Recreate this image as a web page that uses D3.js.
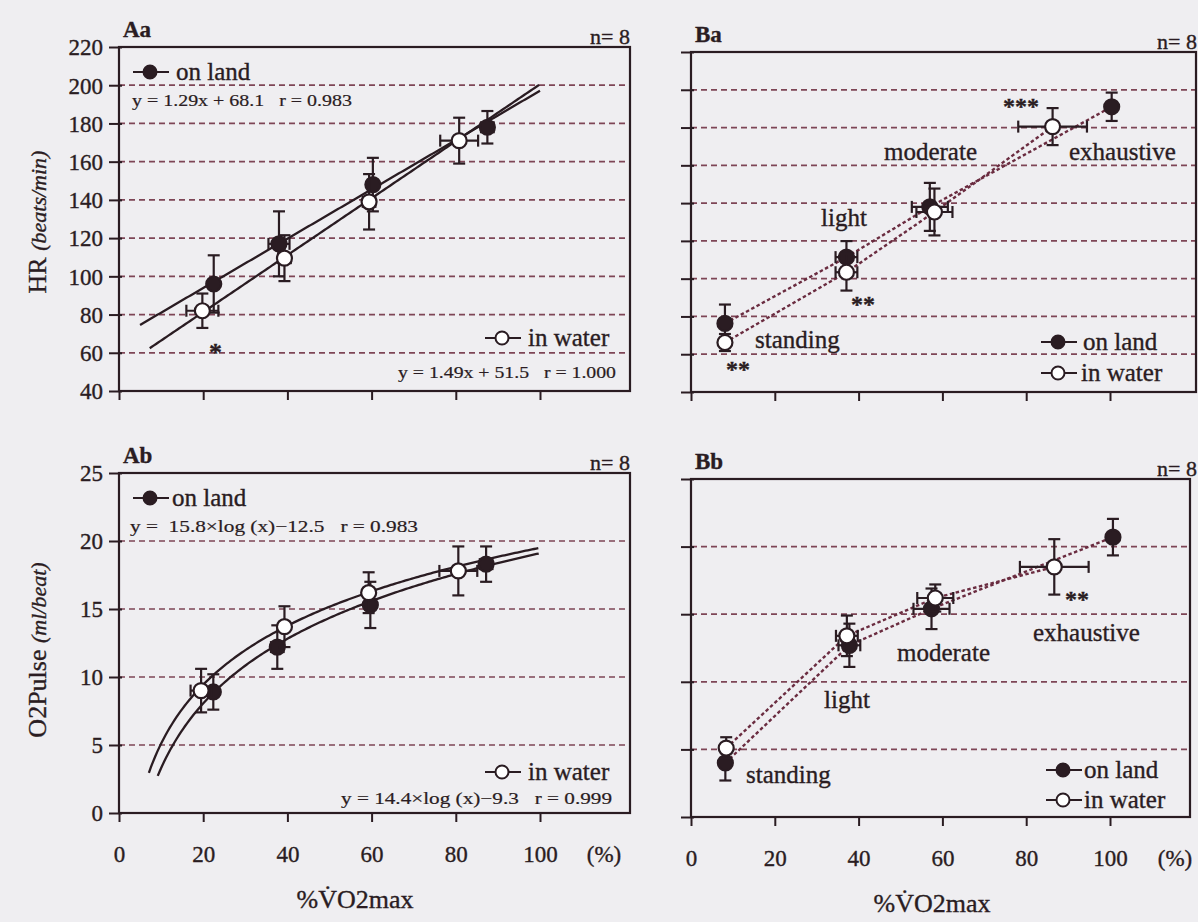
<!DOCTYPE html>
<html><head><meta charset="utf-8">
<script src="https://cdn.jsdelivr.net/npm/d3@7"></script>
<style>
body{margin:0;background:#efeef1;}
svg{display:block;}
text{font-family:"Liberation Serif","Times New Roman",serif;fill:#2a1c22;white-space:pre;stroke:#2a1c22;stroke-width:0.35px;}
</style>
</head><body>
<svg id="c" width="1198" height="922" font-family="Liberation Serif"></svg>
<script>
// ---------------- DATA ----------------
const xTicks = [0, 20, 40, 60, 80, 100];
const hrTicks = [40, 60, 80, 100, 120, 140, 160, 180, 200, 220];
const o2Ticks = [0, 5, 10, 15, 20, 25];
const stages = ["standing", "light", "moderate", "exhaustive"];

// Aa : HR vs %VO2max (regression panel)
const aaLandX = [22.5, 38.0, 60.3, 87.5];
const aaLandY = [96, 117, 148, 178];
const aaLandYErr = [15, 17, 14, 8.5];
const aaLandXErr = [1.0, 2.5, 1.0, 1.5];
const aaWaterX = [19.8, 39.3, 59.4, 80.8];
const aaWaterY = [82, 109.5, 139, 171];
const aaWaterYErr = [9, 12, 14.5, 12];
const aaWaterXErr = [3.8, 1.5, 1.5, 4.5];
const aaFitLand = [1.29, 68.1];   // y = a x + b
const aaFitWater = [1.49, 51.5];
const aaFitLandRange = [5, 100];
const aaFitWaterRange = [7.3, 100];

// Ab : O2Pulse vs %VO2max (regression panel)
const abLandX = [22.4, 37.6, 59.7, 87.2];
const abLandY = [8.9, 12.2, 15.3, 18.3];
const abLandYErr = [1.3, 1.6, 1.7, 1.3];
const abLandXErr = [1.0, 1.5, 1.0, 1.5];
const abWaterX = [19.5, 39.3, 59.3, 80.6];
const abWaterY = [9.0, 13.7, 16.2, 17.8];
const abWaterYErr = [1.6, 1.5, 1.5, 1.8];
const abWaterXErr = [2.5, 1.0, 1.0, 4.5];
const abFitLand = [15.8, -12.5];  // y = a log10(x) + b
const abFitWater = [14.4, -9.3];
const abFitLandRange = [9.2, 100];
const abFitWaterRange = [7.1, 100];

// Ba : HR by exercise stage
const baLandX = [8.1, 37.1, 57.0, 100.4];
const baLandY = [76.3, 111.4, 138.0, 191.0];
const baLandYErr = [10, 8.5, 12.7, 7.5];
const baLandXErr = [0, 2.6, 4.3, 0];
const baWaterX = [8.1, 37.1, 58.1, 86.3];
const baWaterY = [66.2, 103.4, 135.3, 180.5];
const baWaterYErr = [4.5, 9.7, 12.4, 9.8];
const baWaterXErr = [0, 2.6, 4.3, 8.2];

// Bb : O2Pulse by exercise stage
const bbLandX = [8.2, 37.8, 57.4, 100.7];
const bbLandY = [4.0, 12.7, 15.4, 20.7];
const bbLandYErr = [1.3, 1.6, 1.5, 1.35];
const bbLandXErr = [0, 2.6, 4.3, 0];
const bbWaterX = [8.4, 37.2, 58.3, 86.7];
const bbWaterY = [5.1, 13.4, 16.2, 18.5];
const bbWaterYErr = [0.8, 1.5, 1.0, 2.05];
const bbWaterXErr = [0, 2.6, 4.3, 8.2];

// ---------------- STYLE ----------------
const INK = "#2a1c22";
const GRID = "#7e4556";
const DOT = "#6a2c40";
const FONT = '"Liberation Serif", "Times New Roman", serif';

const svg = d3.select("#c");
svg.append("rect").attr("width", 1198).attr("height", 922).attr("fill", "#efeef1");

function pts(xs, ys, yerr, xerr) {
  return xs.map((x, i) => ({x, y: ys[i], ey: yerr[i], ex: xerr[i]}));
}

function drawPanel(cfg) {
  const g = svg.append("g");
  const x = d3.scaleLinear().domain([0, 100]).range([cfg.x0, cfg.x100]);
  const y = d3.scaleLinear().domain(cfg.yDomain).range([cfg.bottom, cfg.top]);
  const yTop = cfg.yDomain[1];

  // grid
  g.selectAll(".grid").data(cfg.yTicks.filter(t => t !== cfg.yDomain[0] && t !== yTop))
    .enter().append("line")
    .attr("x1", cfg.x0).attr("x2", cfg.right)
    .attr("y1", d => y(d)).attr("y2", d => y(d))
    .attr("stroke", GRID).attr("stroke-width", 1.7).attr("stroke-dasharray", "6,4");

  // frame
  g.append("rect").attr("x", cfg.x0).attr("y", cfg.top)
    .attr("width", cfg.right - cfg.x0).attr("height", cfg.bottom - cfg.top)
    .attr("fill", "none").attr("stroke", INK).attr("stroke-width", 2.2);

  // y axis ticks (with or without labels)
  const yAxis = d3.axisLeft(y).tickValues(cfg.yTicks).tickSize(10).tickPadding(6)
    .tickFormat(cfg.yLabels ? d3.format("d") : () => "");
  const ya = g.append("g").attr("transform", `translate(${cfg.x0},0)`).call(yAxis);
  ya.select(".domain").remove();
  ya.selectAll("line").attr("stroke", INK).attr("stroke-width", 2).attr("x2", -10).attr("x1", 3);
  ya.selectAll("text").attr("font-size", 23).attr("fill", INK)
    .style("font-family", FONT).attr("dy", "0.34em");

  // x axis ticks
  const xAxis = d3.axisBottom(x).tickValues(xTicks).tickSize(9).tickPadding(24)
    .tickFormat(cfg.xLabels ? d3.format("d") : () => "");
  const xa = g.append("g").attr("transform", `translate(0,${cfg.bottom})`).call(xAxis);
  xa.select(".domain").remove();
  xa.selectAll("line").attr("stroke", INK).attr("stroke-width", 2);
  xa.selectAll("text").attr("font-size", 23).attr("fill", INK).style("font-family", FONT);
  if (cfg.xLabels) {
    g.append("text").attr("x", cfg.pctX).attr("y", cfg.bottom + 49)
      .attr("text-anchor", "middle").attr("font-size", 23).text("(%)");
    g.append("text").attr("x", cfg.titleX).attr("y", cfg.bottom + 95)
      .attr("text-anchor", "middle").attr("font-size", 26).text("%V\u0307O2max");
  }

  // panel letter & n
  g.append("text").attr("x", cfg.x0 + 4).attr("y", cfg.top - 10)
    .attr("font-size", 23).attr("font-weight", "bold").text(cfg.id);
  g.append("text").attr("x", cfg.nX).attr("y", cfg.top - 3)
    .attr("text-anchor", "end").attr("font-size", 22).text("n= 8");

  const land = pts(cfg.landX, cfg.landY, cfg.landYErr, cfg.landXErr);
  const water = pts(cfg.waterX, cfg.waterY, cfg.waterYErr, cfg.waterXErr);

  // fitted curves (drawn from the printed regression equations)
  if (cfg.fits) {
    cfg.fits.forEach(f => {
      const xs = d3.range(f.range[0], f.range[1] + 0.01, 0.5);
      const fn = f.type === "lin" ? (v => f.coef[0] * v + f.coef[1])
                                  : (v => f.coef[0] * Math.log10(v) + f.coef[1]);
      g.append("path").datum(xs)
        .attr("d", d3.line().x(v => x(v)).y(v => y(fn(v))))
        .attr("fill", "none").attr("stroke", INK).attr("stroke-width", 2.3);
    });
  }
  // connecting dotted lines
  if (cfg.connect) {
    [land, water].forEach(s => {
      g.append("path").datum(s)
        .attr("d", d3.line().x(d => x(d.x)).y(d => y(d.y)))
        .attr("fill", "none").attr("stroke", DOT).attr("stroke-width", 2.4)
        .attr("stroke-dasharray", "3.5,2.5");
    });
  }

  // error bars + markers
  function series(data, filled) {
    const eg = g.append("g").attr("stroke", INK).attr("stroke-width", 2.2);
    data.forEach(d => {
      const cx = x(d.x), cy = y(d.y);
      const y1 = y(d.y + d.ey), y2 = y(d.y - d.ey);
      eg.append("line").attr("x1", cx).attr("x2", cx).attr("y1", y1).attr("y2", y2);
      eg.append("line").attr("x1", cx - 6).attr("x2", cx + 6).attr("y1", y1).attr("y2", y1);
      eg.append("line").attr("x1", cx - 6).attr("x2", cx + 6).attr("y1", y2).attr("y2", y2);
      if (d.ex > 0) {
        const xa1 = x(d.x - d.ex), xa2 = x(d.x + d.ex);
        eg.append("line").attr("x1", xa1).attr("x2", xa2).attr("y1", cy).attr("y2", cy);
        eg.append("line").attr("x1", xa1).attr("x2", xa1).attr("y1", cy - 6).attr("y2", cy + 6);
        eg.append("line").attr("x1", xa2).attr("x2", xa2).attr("y1", cy - 6).attr("y2", cy + 6);
      }
    });
    g.selectAll(null).data(data).enter().append("circle")
      .attr("cx", d => x(d.x)).attr("cy", d => y(d.y)).attr("r", 7.5)
      .attr("fill", filled ? INK : "#ffffff").attr("stroke", INK).attr("stroke-width", 2.2);
  }
  series(land, true);
  series(water, false);

  // legends
  cfg.legends.forEach(L => {
    g.append("line").attr("x1", L.cx - 17).attr("x2", L.cx + 19)
      .attr("y1", L.cy).attr("y2", L.cy).attr("stroke", INK).attr("stroke-width", 2.2);
    g.append("circle").attr("cx", L.cx).attr("cy", L.cy).attr("r", 6.5)
      .attr("fill", L.filled ? INK : "#ffffff").attr("stroke", INK).attr("stroke-width", 2);
    g.append("text").attr("x", L.tx).attr("y", L.cy + 8).attr("font-size", 25).text(L.label);
  });
  // equations
  (cfg.eqs || []).forEach(E => {
    g.append("text").attr("x", E.x).attr("y", E.y).attr("font-size", 17)
      .attr("textLength", E.w).attr("lengthAdjust", "spacingAndGlyphs")
      .style("stroke-width", "0.2px").text(E.text);
  });
  // annotations
  (cfg.notes || []).forEach(N => {
    g.append("text").attr("x", N.x).attr("y", N.y).attr("font-size", N.size || 25)
      .attr("font-weight", N.bold ? "bold" : "normal").text(N.text);
  });
}

drawPanel({
  id: "Aa", x0: 119, x100: 540, right: 630, top: 47, bottom: 391,
  yDomain: [40, 220], yTicks: hrTicks, yLabels: true, xLabels: false, nX: 630,
  landX: aaLandX, landY: aaLandY, landYErr: aaLandYErr, landXErr: aaLandXErr,
  waterX: aaWaterX, waterY: aaWaterY, waterYErr: aaWaterYErr, waterXErr: aaWaterXErr,
  fits: [{type: "lin", coef: aaFitLand, range: aaFitLandRange},
         {type: "lin", coef: aaFitWater, range: aaFitWaterRange}],
  legends: [{cx: 150, cy: 72, tx: 176, label: "on land", filled: true},
            {cx: 502, cy: 338, tx: 528, label: "in water", filled: false}],
  eqs: [{x: 132, y: 106, w: 220, text: "y = 1.29x + 68.1   r = 0.983"},
        {x: 398, y: 378, w: 218, text: "y = 1.49x + 51.5   r = 1.000"}],
  notes: [{x: 209, y: 361, text: "*", size: 26, bold: true}]
});

drawPanel({
  id: "Ab", x0: 119, x100: 540, right: 630, top: 473, bottom: 813,
  yDomain: [0, 25], yTicks: o2Ticks, yLabels: true, xLabels: true, nX: 630,
  pctX: 604, titleX: 355,
  landX: abLandX, landY: abLandY, landYErr: abLandYErr, landXErr: abLandXErr,
  waterX: abWaterX, waterY: abWaterY, waterYErr: abWaterYErr, waterXErr: abWaterXErr,
  fits: [{type: "log", coef: abFitLand, range: abFitLandRange},
         {type: "log", coef: abFitWater, range: abFitWaterRange}],
  legends: [{cx: 150, cy: 498, tx: 172, label: "on land", filled: true},
            {cx: 502, cy: 772, tx: 528, label: "in water", filled: false}],
  eqs: [{x: 130, y: 532, w: 288, text: "y =  15.8\u00d7log (x)\u221212.5   r = 0.983"},
        {x: 341, y: 804, w: 271, text: "y = 14.4\u00d7log (x)\u22129.3   r = 0.999"}]
});

drawPanel({
  id: "Ba", x0: 691, x100: 1110, right: 1196, top: 52, bottom: 392,
  yDomain: [40, 220], yTicks: hrTicks, yLabels: false, xLabels: false, nX: 1197,
  landX: baLandX, landY: baLandY, landYErr: baLandYErr, landXErr: baLandXErr,
  waterX: baWaterX, waterY: baWaterY, waterYErr: baWaterYErr, waterXErr: baWaterXErr,
  connect: true,
  legends: [{cx: 1058, cy: 342, tx: 1083, label: "on land", filled: true},
            {cx: 1058, cy: 373, tx: 1081, label: "in water", filled: false}],
  notes: [{x: 755, y: 348, text: stages[0]}, {x: 821, y: 226, text: stages[1]},
          {x: 884, y: 160, text: stages[2]}, {x: 1069, y: 160, text: stages[3]},
          {x: 1003, y: 114, text: "***", size: 24, bold: true},
          {x: 851, y: 312, text: "**", size: 24, bold: true},
          {x: 726, y: 377, text: "**", size: 24, bold: true}]
});

drawPanel({
  id: "Bb", x0: 691, x100: 1110, right: 1190, top: 479, bottom: 817,
  yDomain: [0, 25], yTicks: o2Ticks, yLabels: false, xLabels: true, nX: 1197,
  pctX: 1175, titleX: 932,
  landX: bbLandX, landY: bbLandY, landYErr: bbLandYErr, landXErr: bbLandXErr,
  waterX: bbWaterX, waterY: bbWaterY, waterYErr: bbWaterYErr, waterXErr: bbWaterXErr,
  connect: true,
  legends: [{cx: 1063, cy: 770, tx: 1084, label: "on land", filled: true},
            {cx: 1063, cy: 800, tx: 1084, label: "in water", filled: false}],
  notes: [{x: 746, y: 783, text: stages[0]}, {x: 824, y: 708, text: stages[1]},
          {x: 897, y: 661, text: stages[2]}, {x: 1033, y: 641, text: stages[3]},
          {x: 1065, y: 607, text: "**", size: 24, bold: true}]
});

// y-axis titles
const t1 = svg.append("text").attr("transform", "translate(46,222) rotate(-90)")
  .attr("text-anchor", "middle");
t1.append("tspan").attr("font-size", 26).text("HR ");
t1.append("tspan").attr("font-size", 22).attr("font-style", "italic").text("(beats/min)");
const t2 = svg.append("text").attr("transform", "translate(46,650) rotate(-90)")
  .attr("text-anchor", "middle");
t2.append("tspan").attr("font-size", 26).text("O2Pulse ");
t2.append("tspan").attr("font-size", 22).attr("font-style", "italic").text("(ml/beat)");
</script>
</body></html>
